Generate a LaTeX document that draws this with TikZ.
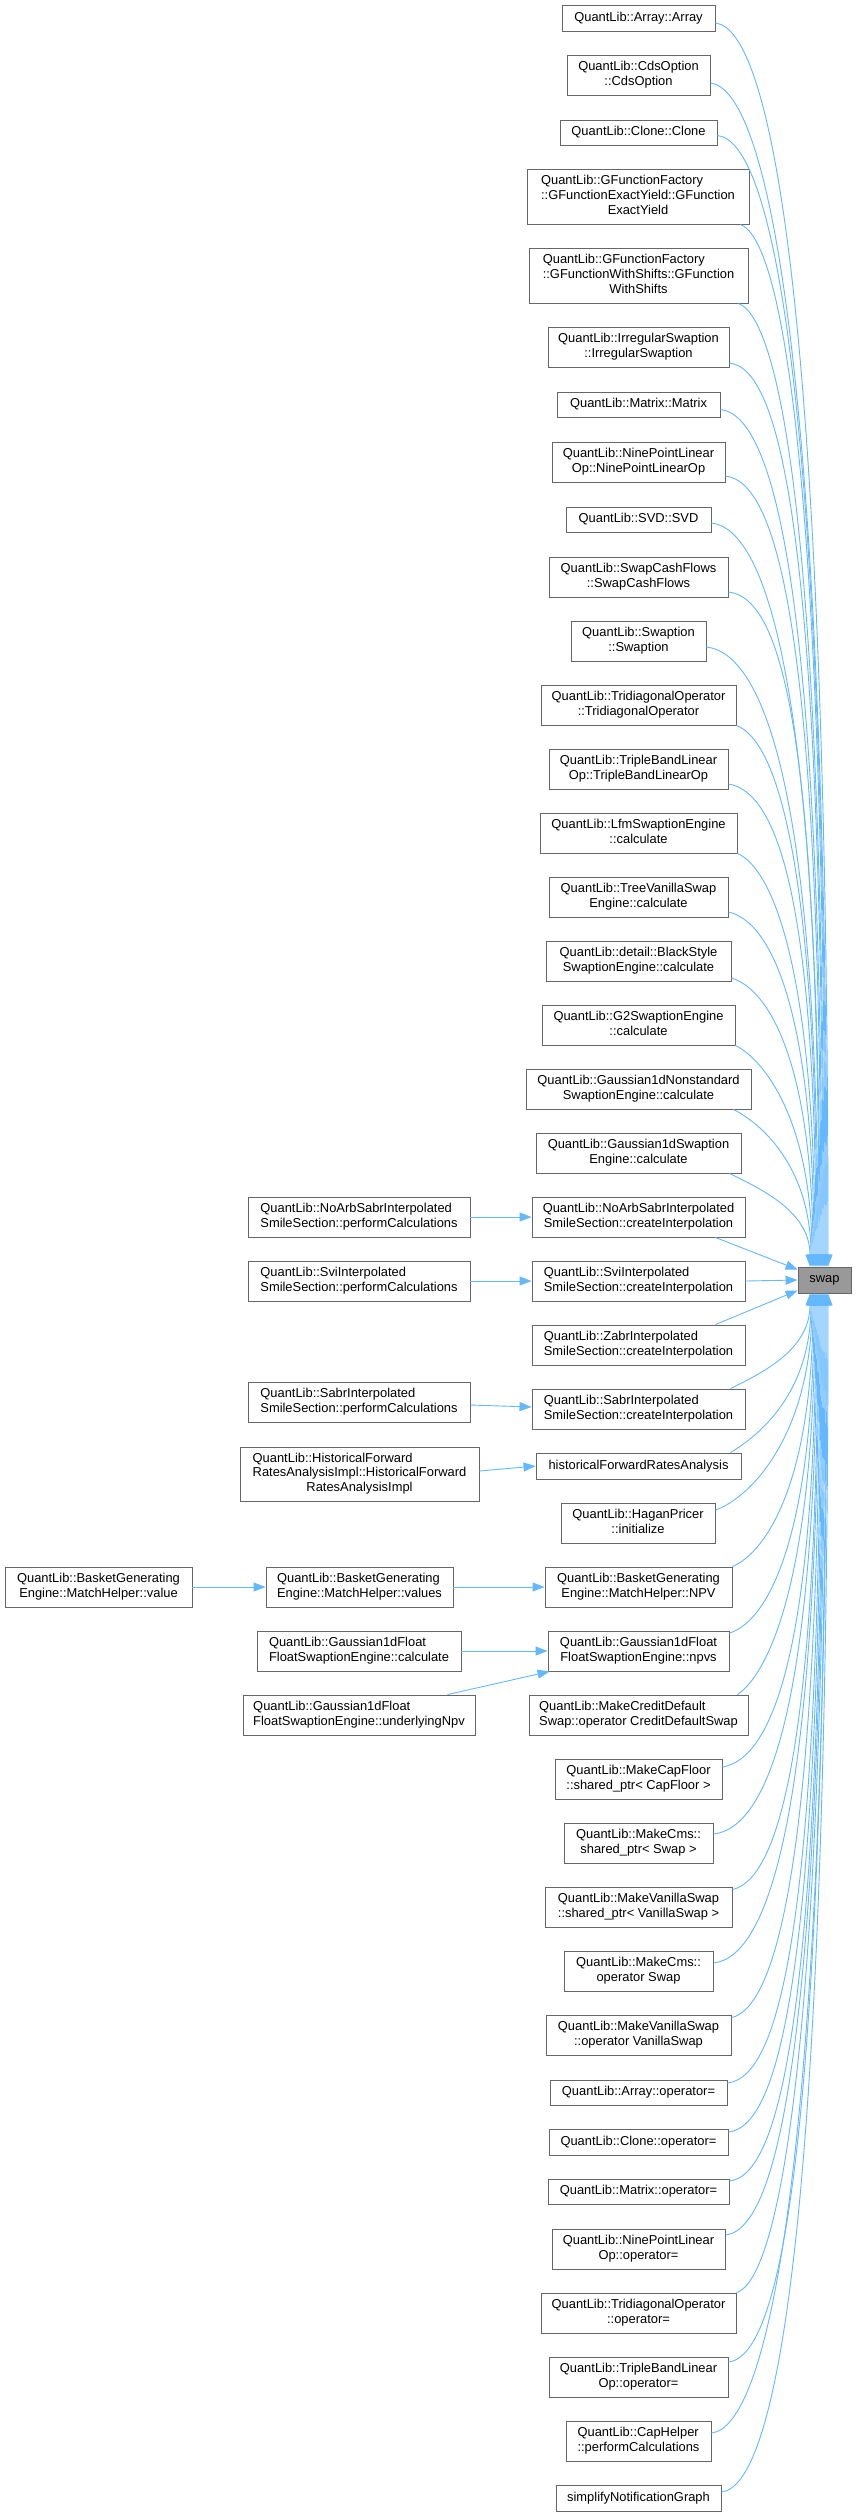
\documentclass[tikz,border=0pt]{standalone}
\usepackage{fontspec}
\setmainfont{Liberation Sans}
\usetikzlibrary{arrows.meta,calc}
\definecolor{edgeblue}{HTML}{63B8FF}
\definecolor{bordergray}{HTML}{666666}
\definecolor{swapfill}{HTML}{999999}
\newcommand\dlabel[2]{\begin{tabular}{@{}l@{}}#1\\\multicolumn{1}{@{}c@{}}{#2}\end{tabular}}
\newcommand\bx[6]{\node[box, minimum width=#4pt, minimum height=#5pt] (#1) at (#2,#3) {#6};}
\newcommand\edtop[5]{%
  \coordinate (s#1) at ($#2$);
  \coordinate (e#1) at ($(swap.north)+(#3,0)$);
  \draw[calls] (s#1) .. controls ($(s#1)+(#4)$) and ($(e#1)!#5!(e#1 |- s#1)$) .. (e#1);}
\newcommand\edbot[5]{%
  \coordinate (s#1) at ($#2$);
  \coordinate (e#1) at ($(swap.south)+(#3,0)$);
  \draw[calls] (s#1) .. controls ($(s#1)+(#4)$) and ($(e#1)!#5!(e#1 |- s#1)$) .. (e#1);}
\begin{document}
\begin{tikzpicture}[x=1pt,y=-1pt,
  box/.style={draw=bordergray, line width=0.9pt, fill=white, inner sep=0pt,
    font=\fontsize{12.9}{14.6}\selectfont, text=black},
  calls/.style={draw=edgeblue, line width=0.9pt, -{Triangle[length=12pt,width=9pt]}}]
\fill[white] (0,0) rectangle (856,2516);
\useasboundingbox (0,0) rectangle (856,2516);

\node[box, fill=swapfill, minimum width=53pt, minimum height=26pt] (swap) at (824.5,1280) {swap};

\bx{n1}{638.5}{18}{153}{26}{QuantLib::Array::Array}
\bx{n2}{638.5}{75}{143}{40}{\dlabel{QuantLib::CdsOption}{::CdsOption}}
\bx{n3}{638.5}{132.5}{157}{25}{QuantLib::Clone::Clone}
\bx{n4}{638}{196.5}{222}{55}{\dlabel{QuantLib::GFunctionFactory\\::GFunctionExactYield::GFunction}{ExactYield}}
\bx{n5}{638.5}{275.5}{219}{55}{\dlabel{QuantLib::GFunctionFactory\\::GFunctionWithShifts::GFunction}{WithShifts}}
\bx{n6}{638.5}{347}{181}{40}{\dlabel{QuantLib::IrregularSwaption}{::IrregularSwaption}}
\bx{n7}{638.5}{404.5}{163}{25}{QuantLib::Matrix::Matrix}
\bx{n8}{638.5}{462}{173}{40}{\dlabel{QuantLib::NinePointLinear}{Op::NinePointLinearOp}}
\bx{n9}{638.5}{519.5}{145}{25}{QuantLib::SVD::SVD}
\bx{n10}{638.5}{577}{179}{40}{\dlabel{QuantLib::SwapCashFlows}{::SwapCashFlows}}
\bx{n11}{638.5}{641}{135}{40}{\dlabel{QuantLib::Swaption}{::Swaption}}
\bx{n12}{638.5}{705}{195}{40}{\dlabel{QuantLib::TridiagonalOperator}{::TridiagonalOperator}}
\bx{n13}{638.5}{769}{179}{40}{\dlabel{QuantLib::TripleBandLinear}{Op::TripleBandLinearOp}}
\bx{n14}{638.5}{833}{197}{40}{\dlabel{QuantLib::LfmSwaptionEngine}{::calculate}}
\bx{n15}{638.5}{897}{179}{40}{\dlabel{QuantLib::TreeVanillaSwap}{Engine::calculate}}
\bx{n16}{638.5}{961}{185}{40}{\dlabel{QuantLib::detail::BlackStyle}{SwaptionEngine::calculate}}
\bx{n17}{638.5}{1025}{193}{40}{\dlabel{QuantLib::G2SwaptionEngine}{::calculate}}
\bx{n18}{638.5}{1089}{225}{40}{\dlabel{QuantLib::Gaussian1dNonstandard}{SwaptionEngine::calculate}}
\bx{n19}{638.5}{1153}{205}{40}{\dlabel{QuantLib::Gaussian1dSwaption}{Engine::calculate}}
\bx{n20}{638.5}{1217}{213}{40}{\dlabel{QuantLib::NoArbSabrInterpolated}{SmileSection::createInterpolation}}
\bx{n21}{638.5}{1281}{213}{40}{\dlabel{QuantLib::SviInterpolated}{SmileSection::createInterpolation}}
\bx{n22}{638.5}{1345}{213}{40}{\dlabel{QuantLib::ZabrInterpolated}{SmileSection::createInterpolation}}
\bx{n23}{638.5}{1409}{213}{40}{\dlabel{QuantLib::SabrInterpolated}{SmileSection::createInterpolation}}
\bx{n24}{638.5}{1466}{205}{26}{historicalForwardRatesAnalysis}
\bx{n25}{638}{1523}{154}{40}{\dlabel{QuantLib::HaganPricer}{::initialize}}
\bx{n26}{638.5}{1587}{187}{40}{\dlabel{QuantLib::BasketGenerating}{Engine::MatchHelper::NPV}}
\bx{n27}{638.5}{1651}{181}{40}{\dlabel{QuantLib::Gaussian1dFloat}{FloatSwaptionEngine::npvs}}
\bx{n28}{638.5}{1715}{219}{40}{\dlabel{QuantLib::MakeCreditDefault}{Swap::operator CreditDefaultSwap}}
\bx{n29}{638.5}{1779}{167}{40}{\dlabel{QuantLib::MakeCapFloor}{::shared\_ptr< CapFloor >}}
\bx{n30}{638.5}{1843}{149}{40}{\dlabel{QuantLib::MakeCms::}{shared\_ptr< Swap >}}
\bx{n31}{638.5}{1907}{187}{40}{\dlabel{QuantLib::MakeVanillaSwap}{::shared\_ptr< VanillaSwap >}}
\bx{n32}{638.5}{1971}{149}{40}{\dlabel{QuantLib::MakeCms::}{operator Swap}}
\bx{n33}{638.5}{2035}{185}{40}{\dlabel{QuantLib::MakeVanillaSwap}{::operator VanillaSwap}}
\bx{n34}{638.5}{2092.5}{177}{25}{QuantLib::Array::operator=}
\bx{n35}{638.5}{2142}{179}{26}{QuantLib::Clone::operator=}
\bx{n36}{638.5}{2191.5}{181}{25}{QuantLib::Matrix::operator=}
\bx{n37}{638.5}{2249}{173}{40}{\dlabel{QuantLib::NinePointLinear}{Op::operator=}}
\bx{n38}{638.5}{2313}{195}{40}{\dlabel{QuantLib::TridiagonalOperator}{::operator=}}
\bx{n39}{638.5}{2377}{179}{40}{\dlabel{QuantLib::TripleBandLinear}{Op::operator=}}
\bx{n40}{638.5}{2441}{145}{40}{\dlabel{QuantLib::CapHelper}{::performCalculations}}
\bx{n41}{638.5}{2498}{165}{26}{simplifyNotificationGraph}

\bx{L1}{359}{1217}{222}{40}{\dlabel{QuantLib::NoArbSabrInterpolated}{SmileSection::performCalculations}}
\bx{L2}{359}{1281}{222}{40}{\dlabel{QuantLib::SviInterpolated}{SmileSection::performCalculations}}
\bx{L3}{359}{1402}{222}{40}{\dlabel{QuantLib::SabrInterpolated}{SmileSection::performCalculations}}
\bx{L4}{359.5}{1474}{239}{54}{\dlabel{QuantLib::HistoricalForward\\RatesAnalysisImpl::HistoricalForward}{RatesAnalysisImpl}}
\bx{L5}{359.5}{1587}{187}{40}{\dlabel{QuantLib::BasketGenerating}{Engine::MatchHelper::values}}
\bx{L6}{98.5}{1587}{187}{40}{\dlabel{QuantLib::BasketGenerating}{Engine::MatchHelper::value}}
\bx{L7}{359}{1651}{204}{40}{\dlabel{QuantLib::Gaussian1dFloat}{FloatSwaptionEngine::calculate}}
\bx{L8}{359}{1715}{232}{40}{\dlabel{QuantLib::Gaussian1dFloat}{FloatSwaptionEngine::underlyingNpv}}

% edges into swap from above
\edtop{1}{(n1.east)+(0,5)}{3.5}{55,6}{0.78}
\edtop{2}{(n2.east)+(0,8)}{2.5}{55,6}{0.78}
\edtop{3}{(n3.east)+(0,3)}{1.5}{55,6}{0.78}
\edtop{4}{(n4.south east)+(-9,0)}{0.5}{40,15}{0.78}
\edtop{5}{(n5.south east)+(-10,0)}{-0.5}{40,15}{0.78}
\edtop{6}{(n6.east)+(0,16)}{-1.5}{55,6}{0.78}
\edtop{7}{(n7.east)+(0,5)}{-2.5}{55,6}{0.78}
\edtop{8}{(n8.east)+(0,14)}{-3.5}{55,6}{0.78}
\edtop{9}{(n9.east)+(0,3.5)}{-4.5}{55,6}{0.78}
\edtop{10}{(n10.east)+(0,15)}{-5.5}{55,6}{0.78}
\edtop{11}{(n11.east)+(0,6)}{-6.5}{55,6}{0.78}
\edtop{12}{(n12.south east)}{-7.5}{40,15}{0.75}
\edtop{13}{(n13.east)+(0,15)}{-8.5}{50,8}{0.75}
\edtop{14}{(n14.south east)}{-9.5}{35,15}{0.72}
\edtop{15}{(n15.east)+(0,15)}{-10.5}{45,10}{0.7}
\edtop{16}{(n16.east)+(0,17)}{-11.5}{40,12}{0.68}
\edtop{17}{(n17.south east)}{-12.5}{30,15}{0.65}
\edtop{18}{(n18.south east)+(-18,0)}{-13.5}{30,15}{0.62}
\edtop{19}{(n19.south east)+(-12,0)}{-14.5}{30,15}{0.6}

% near edges
\coordinate (s20) at ($(n20.south east)+(-30,0)$);
\draw[calls] (s20) -- ($(swap.north west)+(0,3)$);
\draw[calls] (n21.east) -- (swap.west);
\coordinate (s22) at ($(n22.north east)+(-30,0)$);
\draw[calls] (s22) -- ($(swap.south west)+(0,-3)$);

% edges into swap from below
\edbot{23}{(n23.north east)+(-15,0)}{-14.5}{30,-15}{0.6}
\edbot{24}{(n24.north east)+(-11,0)}{-13.5}{30,-18}{0.62}
\edbot{25}{(n25.east)+(0,-13)}{-12.5}{35,-12}{0.65}
\edbot{26}{(n26.north east)}{-11.5}{35,-15}{0.68}
\edbot{27}{(n27.east)+(0,-18)}{-10.5}{40,-12}{0.7}
\edbot{28}{(n28.north east)+(-11,0)}{-9.5}{30,-20}{0.72}
\edbot{29}{(n29.east)+(0,-12)}{-8.5}{50,-8}{0.75}
\edbot{30}{(n30.east)+(0,-9)}{-7.5}{55,-6}{0.76}
\edbot{31}{(n31.north east)+(0,3)}{-6.5}{45,-10}{0.77}
\edbot{32}{(n32.east)+(0,-8)}{-5.5}{55,-6}{0.78}
\edbot{33}{(n33.north east)+(0,3)}{-4.5}{45,-10}{0.78}
\edbot{34}{(n34.east)+(0,-9.5)}{-3.5}{55,-6}{0.78}
\edbot{35}{(n35.east)+(0,-10)}{-2.5}{55,-6}{0.78}
\edbot{36}{(n36.east)+(0,-10.5)}{-1.5}{55,-6}{0.78}
\edbot{37}{(n37.east)+(0,-14)}{-0.5}{55,-6}{0.78}
\edbot{38}{(n38.north east)}{0.5}{40,-12}{0.78}
\edbot{39}{(n39.east)+(0,-15)}{1.5}{55,-6}{0.78}
\edbot{40}{(n40.east)+(0,-8)}{2.5}{55,-6}{0.78}
\edbot{41}{(n41.east)+(0,-6)}{3.5}{55,-6}{0.78}

% left-side edges
\draw[calls] (L1.east) -- (n20.west);
\draw[calls] (L2.east) -- (n21.west);
\draw[calls] ($(L3.east)+(0,3)$) -- ($(n23.west)+(0,-2)$);
\draw[calls] ($(L4.east)+(0,-3)$) -- (n24.west);
\draw[calls] (L6.east) -- (L5.west);
\draw[calls] (L5.east) -- (n26.west);
\draw[calls] (L7.east) -- (n27.west);
\coordinate (s8L) at ($(L8.north east)+(-28,0)$);
\draw[calls] (s8L) -- ($(n27.south west)+(2,0)$);
\end{tikzpicture}
\end{document}
